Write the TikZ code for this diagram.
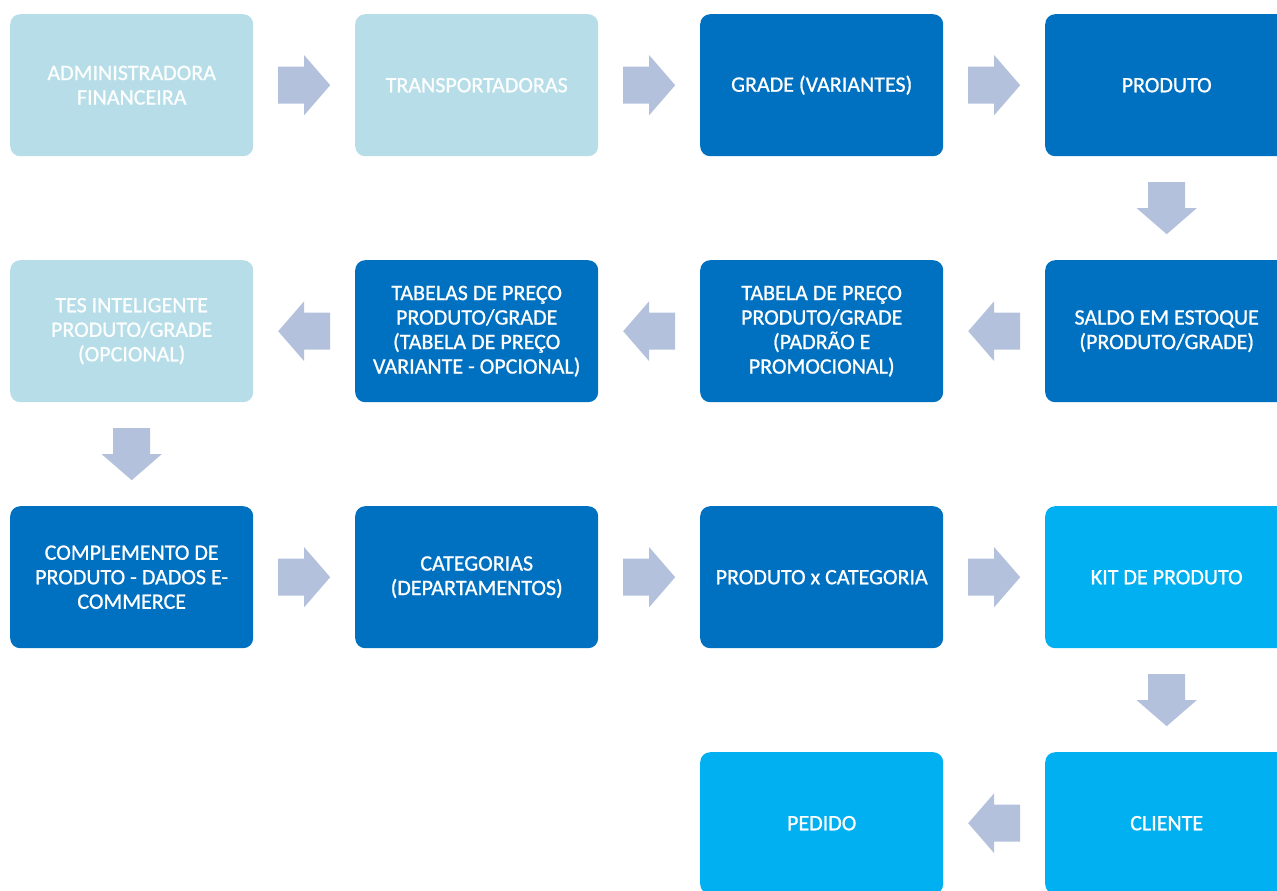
\documentclass[tikz,border=0pt]{standalone}
\usepackage{fontspec}
\setmainfont{Carlito}
\newfontfamily\boxfont{Carlito}[FakeBold=0.9]
\usetikzlibrary{calc}
\definecolor{lightbox}{HTML}{B7DEE8}
\definecolor{darkbox}{HTML}{0070C0}
\definecolor{brightbox}{HTML}{00B0F0}
\definecolor{arrowc}{HTML}{B3C1DC}
\tikzset{
  box/.style={rounded corners=10pt, minimum width=243pt, minimum height=142pt,
    inner sep=0pt, align=center, text=white, anchor=north west,
    font=\boxfont\fontsize{22}{24.5}\selectfont},
  lightb/.style={box, fill=lightbox, text=white!96!lightbox},
  darkb/.style={box, fill=darkbox},
  brightb/.style={box, fill=brightbox},
  pics/barrow/.style={code={
    \fill[arrowc] (-26,-18.5) -- (0,-18.5) -- (0,-30) -- (26,0) -- (0,30) -- (0,18.5) -- (-26,18.5) -- cycle;
  }}
}
\begin{document}
\begin{tikzpicture}[x=1pt,y=-1pt]
\useasboundingbox (0,0) rectangle (1277,891);
\clip (0,0) rectangle (1277,891);
% row 1
\node[lightb] (a1) at (10,14) {ADMINISTRADORA\\FINANCEIRA};
\node[lightb] (a2) at (355,14) {TRANSPORTADORAS};
\node[darkb] (a3) at (700,14) {GRADE (VARIANTES)};
\node[darkb] (a4) at (1045,14) {PRODUTO};
% row 2
\node[lightb] (b1) at (10,260) {TES INTELIGENTE\\PRODUTO/GRADE\\(OPCIONAL)};
\node[darkb] (b2) at (355,260) {TABELAS DE PREÇO\\PRODUTO/GRADE\\(TABELA DE PREÇO\\VARIANTE - OPCIONAL)};
\node[darkb] (b3) at (700,260) {TABELA DE PREÇO\\PRODUTO/GRADE\\(PADRÃO E\\PROMOCIONAL)};
\node[darkb] (b4) at (1045,260) {SALDO EM ESTOQUE\\(PRODUTO/GRADE)};
% row 3
\node[darkb] (c1) at (10,506) {COMPLEMENTO DE\\PRODUTO - DADOS E-\\COMMERCE};
\node[darkb] (c2) at (355,506) {CATEGORIAS\\(DEPARTAMENTOS)};
\node[darkb] (c3) at (700,506) {PRODUTO x CATEGORIA};
\node[brightb] (c4) at (1045,506) {KIT DE PRODUTO};
% row 4
\node[brightb] (d3) at (700,752) {PEDIDO};
\node[brightb] (d4) at (1045,752) {CLIENTE};
% arrows
\pic at ($(a1.east)!0.5!(a2.west)$) {barrow};
\pic at ($(a2.east)!0.5!(a3.west)$) {barrow};
\pic at ($(a3.east)!0.5!(a4.west)$) {barrow};
\pic[rotate=-90] at ($(a4.south)!0.5!(b4.north)$) {barrow};
\pic[rotate=180] at ($(b4.west)!0.5!(b3.east)$) {barrow};
\pic[rotate=180] at ($(b3.west)!0.5!(b2.east)$) {barrow};
\pic[rotate=180] at ($(b2.west)!0.5!(b1.east)$) {barrow};
\pic[rotate=-90] at ($(b1.south)!0.5!(c1.north)$) {barrow};
\pic at ($(c1.east)!0.5!(c2.west)$) {barrow};
\pic at ($(c2.east)!0.5!(c3.west)$) {barrow};
\pic at ($(c3.east)!0.5!(c4.west)$) {barrow};
\pic[rotate=-90] at ($(c4.south)!0.5!(d4.north)$) {barrow};
\pic[rotate=180] at ($(d4.west)!0.5!(d3.east)$) {barrow};
\end{tikzpicture}
\end{document}
